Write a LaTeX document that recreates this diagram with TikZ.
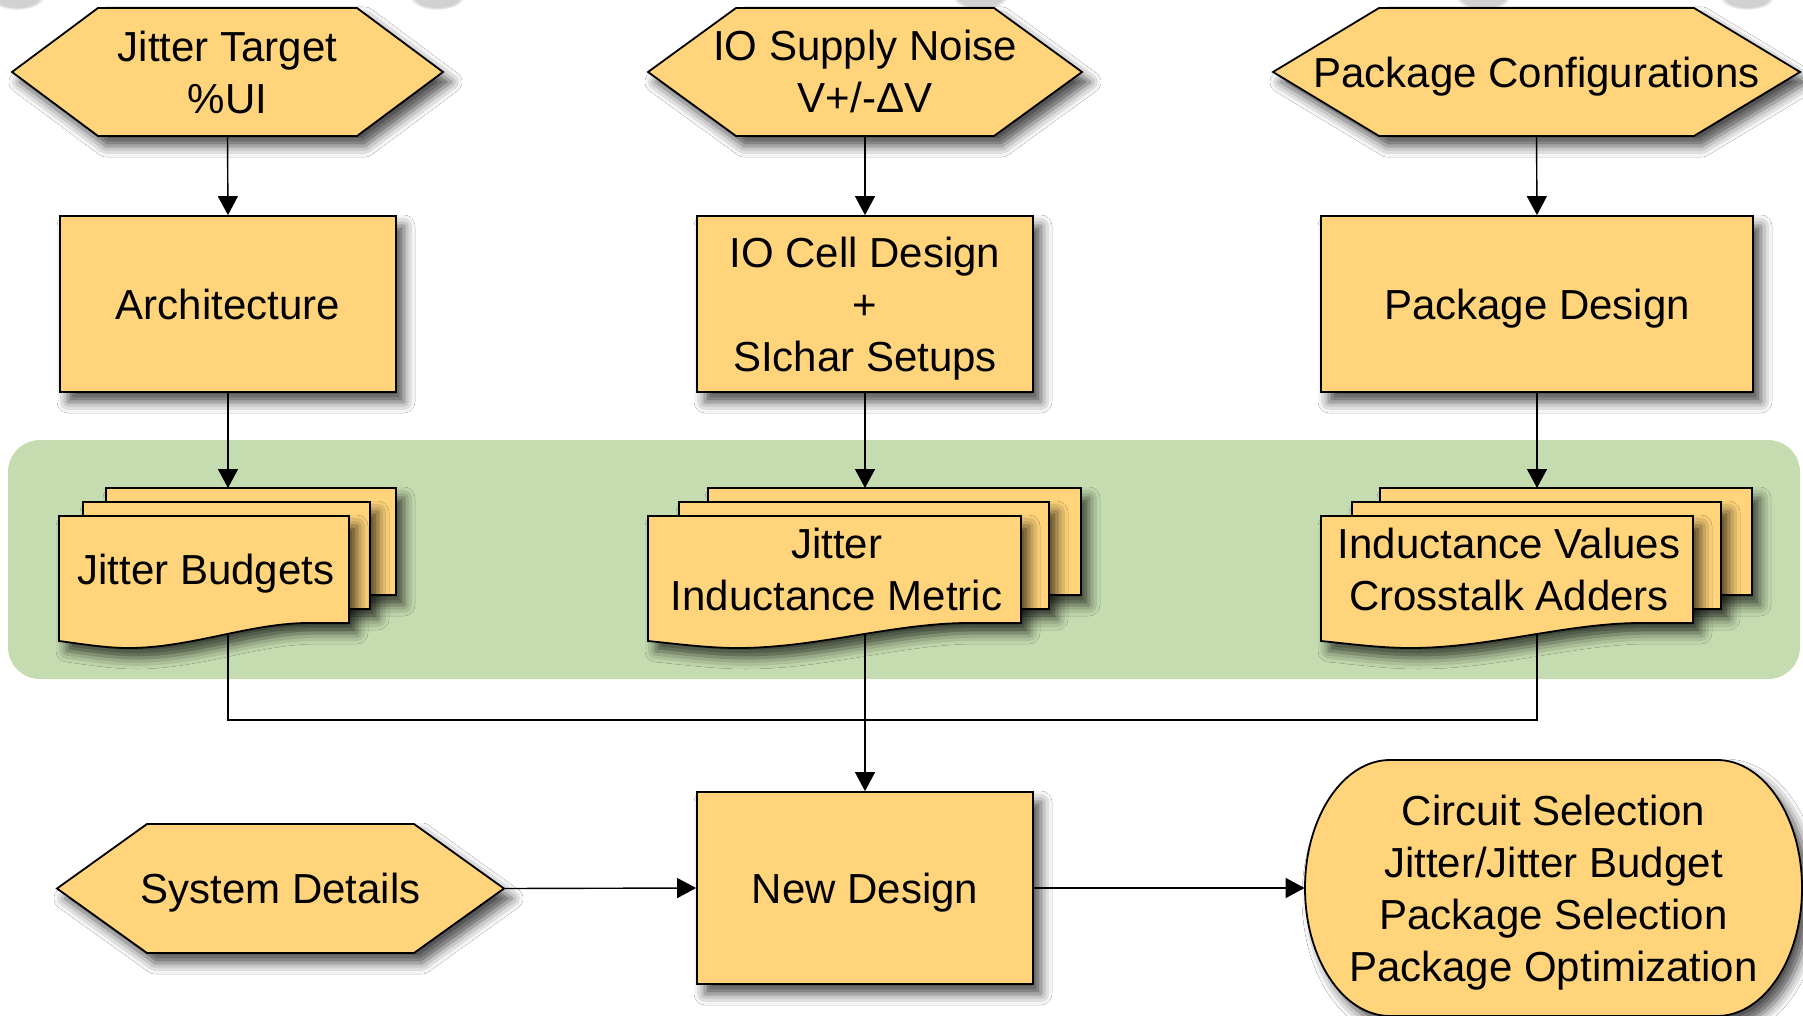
\documentclass[tikz,border=0pt]{standalone}
\usepackage{fontspec}
\setmainfont{Liberation Sans}
\usetikzlibrary{arrows.meta,calc,shadows.blur,fadings}
\definecolor{boxfill}{HTML}{FFD47A}
\definecolor{bandfill}{HTML}{C5DCB0}
\pgfdeclarelayer{band}
\pgfdeclarelayer{shapes}
\pgfsetlayers{band,shapes,main}

% stack of three documents: #1 name, #2 left, #3 top, #4 width,
% #5 offset of the back sheet, #6 offset of the middle sheet, #7 text
\newcommand\docstack[7]{%
  \begin{pgfonlayer}{shapes}
    \path[boxstyle] (#2+#5,#3-28) rectangle ++(#4,107);
    \path[boxstyle] (#2+#6,#3-14) rectangle ++(#4-3,107);
    \path[boxstyle] (#2,#3) -- ++(#4,0) -- ++(0,107) -- (#2+0.85*#4,#3+107)
      .. controls (#2+0.65*#4,#3+108) and (#2+0.45*#4,#3+132) .. (#2+0.24*#4,#3+132)
      .. controls (#2+0.16*#4,#3+132) and (#2+0.08*#4,#3+128) .. (#2,#3+125) -- cycle;
  \end{pgfonlayer}
  \coordinate (#1top) at (#2+#5,#3-28);
  \node[txt] (#1) at (#2+#4/2+2,#3+53.5) {#7};}

\begin{document}
\begin{tikzpicture}[x=0.5pt,y=-0.5pt,
  txt/.style={inner sep=0pt,align=center,text depth=0pt,font=\fontsize{21}{26}\selectfont},
  softshadow/.style={blur shadow={shadow xshift=4pt,shadow yshift=-5pt,
      shadow blur radius=5.5pt,shadow opacity=70}},
  boxstyle/.style={draw=black,line width=0.9pt,fill=boxfill,softshadow},
  procbox/.style={txt,boxstyle},
  link/.style={line width=0.7pt,draw=black},
  arrow/.style={link,-{Triangle[length=9.5pt,width=10pt]}},
  blob/.style={fill=black,opacity=0.18,path fading=circle with fuzzy edge 20 percent},
]
\useasboundingbox (0,0) rectangle (1803,1016);

% input hexagons
\path[boxstyle] (12,72) -- (98,8) -- (357,8) -- (443,72) -- (357,136) -- (98,136) -- cycle;
\node[txt,minimum width=215.5pt,minimum height=64pt] (jt) at (227.5,72) {Jitter Target\\\%UI};
\path[boxstyle] (648,72) -- (736,8) -- (994,8) -- (1082,72) -- (994,136) -- (736,136) -- cycle;
\node[txt,minimum width=217pt,minimum height=64pt] (sn) at (865,71) {IO Supply Noise\\V+/-ΔV};
\path[boxstyle] (1273,72) -- (1379,8) -- (1694,8) -- (1800,72) -- (1694,136) -- (1379,136) -- cycle;
\node[txt,minimum width=263.5pt,minimum height=64pt] (pc) at (1536.5,72) {Package Configurations};
\path[boxstyle] (57,888.5) -- (147,824) -- (414,824) -- (504,888.5) -- (414,953) -- (147,953) -- cycle;
\node[txt,minimum width=223.5pt,minimum height=64.5pt] (sd) at (280.5,888.5) {System Details};

% process boxes
\node[procbox,minimum width=168pt,minimum height=88pt] (arch) at (228,304) {Architecture};
\node[procbox,minimum width=168pt,minimum height=88pt] (io) at (865,304) {IO Cell Design\\+\\SIchar Setups};
\node[procbox,minimum width=216pt,minimum height=88pt] (pd) at (1537,304) {Package Design};
\node[procbox,minimum width=168pt,minimum height=96pt] (nd) at (865,888) {New Design};

% document stacks
\docstack{jb}{59}{516}{290}{47}{24}{Jitter Budgets}
\docstack{ji}{648}{516}{373}{60}{31}{Jitter\\Inductance Metric}
\docstack{iv}{1321}{516}{372}{59}{31}{Inductance Values\\Crosstalk Adders}

% terminal with rounded ends
\begin{pgfonlayer}{shapes}
  \path[boxstyle] (1390,760) arc[start angle=90,end angle=270,x radius=42.5pt,y radius=64pt]
    -- (1717,1016) arc[start angle=-90,end angle=90,x radius=42.5pt,y radius=64pt] -- cycle;
\end{pgfonlayer}
\node[txt,minimum width=248.5pt,minimum height=128pt] (out) at (1553.5,888)
  {Circuit Selection\\Jitter/Jitter Budget\\Package Selection\\Package Optimization};

% background, green band and the collecting lines below the stacks
\coordinate (bus) at (865,720);
\begin{pgfonlayer}{band}
  \fill[white] (0,0) rectangle (1803,1016);
  \foreach \bx in {17,437,980,1483,1747}
    \fill[blob] (\bx,-4) ellipse (14pt and 7pt);
  \fill[bandfill,rounded corners=16pt] (8,440) rectangle (1800,679);
  \draw[link] (arch.south |- jb.center) |- (bus) -| (pd.south |- iv.center);
  \draw[link] (io.south |- ji.center) -- (bus);
\end{pgfonlayer}

% arrows
\draw[arrow] (jt.south) -- (arch.north);
\draw[arrow] (sn.south) -- (io.north);
\draw[arrow] (pc.south) -- (pd.north);
\draw[arrow] (arch.south) -- (arch.south |- jbtop);
\draw[arrow] (io.south) -- (io.south |- jitop);
\draw[arrow] (pd.south) -- (pd.south |- ivtop);
\draw[arrow] (bus) -- (nd.north);
\draw[arrow] (sd.east) -- (nd.west);
\draw[arrow] (nd.east) -- (out.west);
\end{tikzpicture}
\end{document}
